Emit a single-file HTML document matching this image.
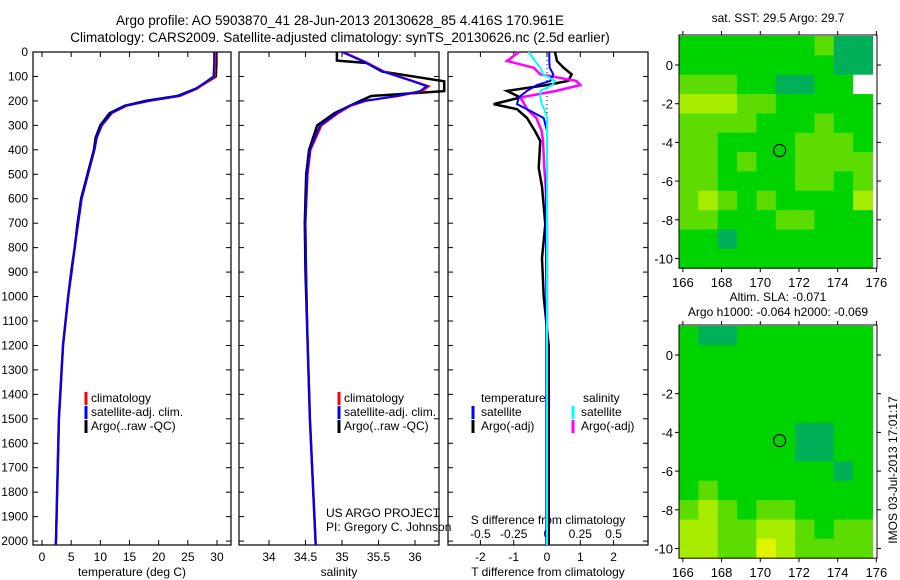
<!DOCTYPE html>
<html><head><meta charset="utf-8"><style>
body{margin:0;background:#fff;}
svg{display:block;font-family:"Liberation Sans",sans-serif;}
</style></head><body>
<svg id="fig" width="900" height="580" viewBox="0 0 900 580">
<text x="340" y="25" font-size="13.5" text-anchor="middle">Argo profile: AO 5903870_41 28-Jun-2013 20130628_85 4.416S 170.961E</text>
<text x="340" y="42" font-size="13.5" text-anchor="middle">Climatology: CARS2009. Satellite-adjusted climatology: synTS_20130626.nc (2.5d earlier)</text>
<g id="g"></g>
</svg>
<script>
// ---- data ----
const tDepth=[0,50,100,150,180,200,220,250,300,350,400,500,600,700,800,900,1000,1200,1500,2000,2016];
const tClim=[29.7,29.7,29.6,26.6,23.7,18.5,14.5,12,10.3,9.4,9.0,7.9,6.8,6.2,5.6,5.1,4.5,3.6,2.9,2.4,2.35];
const tSat=[29.5,29.5,29.4,26.4,23.4,18.2,14.3,11.9,10.2,9.4,9.0,7.9,6.8,6.2,5.6,5.1,4.5,3.6,2.9,2.4,2.35];
const tArgo=[29.9,29.9,29.8,26.4,23.2,17.8,14.2,11.6,10.0,9.2,8.9,7.8,6.7,6.1,5.6,5.0,4.5,3.6,2.9,2.4,2.35];
const sDepth=[0,40,80,120,140,160,180,200,220,250,300,400,500,700,900,1200,1500,2016];
const sClim=[35.02,35.32,35.58,35.99,36.19,36.1,35.78,35.33,35.12,34.95,34.72,34.57,34.53,34.5,34.51,34.53,34.56,34.64];
const sSat=[35.0,35.3,35.56,35.97,36.16,36.07,35.75,35.3,35.1,34.93,34.7,34.56,34.52,34.5,34.51,34.53,34.56,34.64];
const sArgoDepth=[0,35,45,80,120,140,160,180,200,250,300,400,500,700,900,1200,1500,2016];
const sArgo=[34.93,34.93,35.34,35.55,36.4,36.4,36.4,35.4,35.25,34.9,34.66,34.55,34.51,34.49,34.5,34.53,34.56,34.64];
const dDepth=[0,37,64,91,118,135,159,186,213,234,270,323,364,474,550,705,843,1000,1200,1600,2016];
const dTArgo=[0.24,0.3,0.5,0.74,0.64,0,-1.2,-0.8,-1.6,-0.9,-0.6,-0.36,-0.2,-0.25,-0.15,-0.05,-0.15,-0.1,0.05,0.05,0.05];
const dTSat=[0.07,0.07,0.08,0.19,0.1,-0.3,-0.6,-0.85,-0.9,-0.6,-0.1,0,0,0,-0.02,-0.03,-0.03,-0.02,-0.02,-0.02,-0.02];
const dSArgo=[-0.21,-0.3,-0.1,-0.05,0.22,0.25,0.07,-0.2,-0.17,-0.15,-0.08,-0.04,-0.03,-0.02,-0.01,0,0,0,0,0,0];
const dSSat=[-0.14,-0.09,-0.05,-0.03,0.06,0.04,-0.05,-0.05,-0.04,-0.02,0,0,0,0,0,0,0,0,0,0,0];
const depthTicks=[0,100,200,300,400,500,600,700,800,900,1000,1100,1200,1300,1400,1500,1600,1700,1800,1900,2000];
const tTicks=[0,5,10,15,20,25,30];
const sTicks=[34,34.5,35,35.5,36];
const sTickLabels=["34","34.5","35","35.5","36"];
const dTicks=[-2,-1,0,1,2];
const dsTicks=[-0.5,-0.25,0,0.25,0.5];
const dsTickLabels=["-0.5","-0.25","0","0.25","0.5"];
const lonTicks=[166,168,170,172,174,176];
const latTicks=[0,-2,-4,-6,-8,-10];
const sstGrid=[
[1,1,1,1,1,1,1,2,0,0],[1,1,1,1,1,1,1,1,0,0],[2,2,2,1,1,0,0,1,1,5],[3,3,3,2,2,1,1,1,1,1],
[2,2,2,2,1,1,1,2,1,1],[2,2,1,1,1,1,2,2,2,1],[2,2,1,2,1,1,2,2,2,2],[2,2,1,1,1,1,2,2,1,2],
[2,3,2,1,2,1,1,1,1,3],[2,2,1,1,1,2,2,1,1,1],[1,1,0,1,1,1,1,1,1,1],[1,1,1,1,1,1,1,1,1,1]];
const slaGrid=[
[1,0,0,1,1,1,1,1,1,1],[1,1,1,1,1,1,1,1,1,1],[1,1,1,1,1,1,1,1,1,1],[1,1,1,1,1,1,1,1,1,1],
[1,1,1,1,1,1,1,1,1,1],[1,1,1,1,1,1,0,0,1,1],[1,1,1,1,1,1,0,0,1,1],[1,1,1,1,1,1,1,1,0,1],
[1,2,1,1,1,1,1,1,1,1],[2,3,2,1,2,2,1,1,1,1],[3,3,2,2,3,3,2,1,2,2],[3,3,2,2,4,3,2,2,2,2]];
const argoLon=171.0, argoLat=-4.42;

const NS="http://www.w3.org/2000/svg";
const G=document.getElementById('g');
function mk(tag,at,parent){const e=document.createElementNS(NS,tag);for(const k in at)e.setAttribute(k,at[k]);(parent||G).appendChild(e);return e;}
function txt(x,y,s,anchor,size,name){const e=mk('text',{x:x,y:y,'font-size':size||12,'text-anchor':anchor||'start'});e.textContent=s;


return e;}
const TOP=52,BOT=545,DMAX=2016;
const yD=d=>TOP+(BOT-TOP)*d/DMAX;
function panel(x0,x1,name){const r=mk('rect',{x:x0,y:TOP,width:x1-x0,height:BOT-TOP,fill:'none',stroke:'#000','stroke-width':1.2});


depthTicks.forEach(d=>{mk('line',{x1:x0,x2:x0+5,y1:yD(d),y2:yD(d),stroke:'#000'});mk('line',{x1:x1,x2:x1-5,y1:yD(d),y2:yD(d),stroke:'#000'});});}
function line(xs,ds,fx,col,w,name){const p=mk('polyline',{points:xs.map((v,i)=>fx(v).toFixed(1)+','+yD(ds[i]).toFixed(1)).join(' '),fill:'none',stroke:col,'stroke-width':w});

}
// depth labels
depthTicks.forEach(d=>txt(28,yD(d)+4,String(d),'end',12,'depth-tick-label'));
// panel 1
const xT=t=>42+t*5.833;
panel(33,231,'temperature-panel');
tTicks.forEach(t=>{mk('line',{x1:xT(t),x2:xT(t),y1:BOT,y2:BOT-5,stroke:'#000'});mk('line',{x1:xT(t),x2:xT(t),y1:TOP,y2:TOP+5,stroke:'#000'});txt(xT(t),561,String(t),'middle',12,'temperature-tick-label');});
txt(132,576,'temperature (deg C)','middle',12,'temperature-axis-title');
line(tArgo,tDepth,xT,'#000',2.5,'temperature-argo-line');
line(tClim,tDepth,xT,'#f00',2,'temperature-climatology-line');
line(tSat,tDepth,xT,'#00f',2,'temperature-satellite-line');
// panel 2
const xS=s=>269+(s-34)*73;
panel(239,439,'salinity-panel');
sTicks.forEach((s,i)=>{mk('line',{x1:xS(s),x2:xS(s),y1:BOT,y2:BOT-5,stroke:'#000'});mk('line',{x1:xS(s),x2:xS(s),y1:TOP,y2:TOP+5,stroke:'#000'});txt(xS(s),561,sTickLabels[i],'middle',12,'salinity-tick-label');});
txt(339,576,'salinity','middle',12,'salinity-axis-title');
line(sArgo,sArgoDepth,xS,'#000',2.5,'salinity-argo-line');
line(sClim,sDepth,xS,'#f00',2,'salinity-climatology-line');
line(sSat,sDepth,xS,'#00f',2,'salinity-satellite-line');
[[86,'climatology','#f00'],[86,'satellite-adj. clim.','#00f'],[86,'Argo(..raw -QC)','#000']].forEach((l,i)=>{
 [0,253].forEach(off=>{mk('line',{x1:l[0]+off,x2:l[0]+off,y1:392+i*14,y2:405+i*14,stroke:l[2],'stroke-width':3});txt(l[0]+off+5,402+i*14,l[1],'start',12,'legend-entry');});});
txt(326,517,'US ARGO PROJECT','start',12,'project-label');
txt(326,531,'PI: Gregory C. Johnson','start',12,'pi-label');
// panel 3
const xDT=t=>547+t*33.3;
const xDS=s=>547+s*133.2;
panel(448,648,'difference-panel');
dTicks.forEach(t=>{mk('line',{x1:xDT(t),x2:xDT(t),y1:BOT,y2:BOT-5,stroke:'#000'});mk('line',{x1:xDT(t),x2:xDT(t),y1:TOP,y2:TOP+5,stroke:'#000'});txt(xDT(t),561,String(t),'middle',12,'t-diff-tick-label');});
dsTicks.forEach((s,i)=>txt(xDS(s),538,dsTickLabels[i],'middle',12,'s-diff-tick-label'));
txt(548,524,'S difference from climatology','middle',12,'s-diff-axis-title');
txt(548,576,'T difference from climatology','middle',12,'t-diff-axis-title');
mk('line',{x1:xDT(0),x2:xDT(0),y1:TOP,y2:BOT,stroke:'#000','stroke-dasharray':'1,3'});
line(dTArgo,dDepth,xDT,'#000',2.5,'t-diff-argo-line');
line(dSArgo,dDepth,xDS,'#f0f',2.5,'s-diff-argo-line');
line(dTSat,dDepth,xDT,'#00f',2,'t-diff-satellite-line');
line(dSSat,dDepth,xDS,'#0ff',2,'s-diff-satellite-line');
txt(481,402,'temperature','start',12,'legend-temperature-header');
txt(583,402,'salinity','start',12,'legend-salinity-header');
[['satellite','#00f','#0ff'],['Argo(-adj)','#000','#f0f']].forEach((l,i)=>{
 mk('line',{x1:473,x2:473,y1:406+i*14,y2:419+i*14,stroke:l[1],'stroke-width':3});txt(481,416+i*14,l[0],'start',12,'legend-entry');
 mk('line',{x1:573,x2:573,y1:406+i*14,y2:419+i*14,stroke:l[2],'stroke-width':3});txt(581,416+i*14,l[0],'start',12,'legend-entry');});
// maps
const COLORS=['#00b058','#00d400','#5cdc00','#a8ec00','#e0f400','#ffffff'];
function map(grid,top,lat0y,name,title){
 const L=679,R=877,LON0=165.8,PX=19.35;
 const xL=lo=>L+(lo-LON0)*PX; const yL=la=>lat0y-la*PX;
 const bot=yL(-10.5);
 grid.forEach((row,r)=>row.forEach((v,c)=>{const x0=xL(165.8+c),y0=yL(1.5-r);
  const cell=mk('rect',{x:Math.max(L,x0).toFixed(1),y:Math.max(top,y0).toFixed(1),width:(Math.min(R,xL(166.8+c))-Math.max(L,x0)+0.5).toFixed(1),height:(Math.min(bot,yL(0.5-r))-Math.max(top,y0)+0.5).toFixed(1),fill:COLORS[v]});
  
  }));
 const b=mk('rect',{x:L,y:top,width:R-L,height:bot-top,fill:'none',stroke:'#000','stroke-width':1});
 
 
 const c=mk('circle',{cx:xL(argoLon),cy:yL(argoLat),r:6,fill:'none',stroke:'#000','stroke-width':1.2});
 
 
 lonTicks.forEach(lo=>{mk('line',{x1:xL(lo),x2:xL(lo),y1:top,y2:top-4,stroke:'#000'});mk('line',{x1:xL(lo),x2:xL(lo),y1:bot,y2:bot+4,stroke:'#000'});txt(xL(lo),bot+19,String(lo),'middle',13,'longitude-tick-label');});
 latTicks.forEach(la=>{mk('line',{x1:L,x2:L-4,y1:yL(la),y2:yL(la),stroke:'#000'});mk('line',{x1:R,x2:R+4,y1:yL(la),y2:yL(la),stroke:'#000'});txt(673,yL(la)+5,String(la),'end',13,'latitude-tick-label');});
}
map(sstGrid,35,65,'sst-map');
txt(778,22,'sat. SST: 29.5 Argo: 29.7','middle',12,'sst-map-title');
map(slaGrid,325,355,'sla-map');
txt(778,301,'Altim. SLA: -0.071','middle',12,'sla-map-title');
txt(778,316,'Argo h1000: -0.064 h2000: -0.069','middle',12,'sla-map-subtitle');
const st=txt(0,0,'IMOS 03-Jul-2013 17:01:17','middle',12,'timestamp-label');
st.setAttribute('transform','translate(897,470) rotate(-90)');
</script>
</body></html>
